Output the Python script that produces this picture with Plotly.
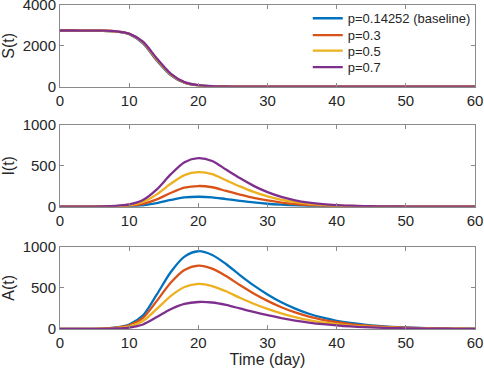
import plotly.graph_objects as go

# ---- data ----
t = list(range(0, 61, 2))
labels = ["p=0.14252 (baseline)", "p=0.3", "p=0.5", "p=0.7"]
colors = ["#0072BD", "#D95319", "#EDB120", "#7E2F8E"]

S_blue = [2750, 2750, 2747, 2738, 2705, 2570, 2120, 1280, 570, 190, 58, 18, 6, 2, 1, 0] + [0] * 15
S_red = [2750, 2750, 2747, 2740, 2709, 2582, 2150, 1315, 595, 200, 62, 19, 7, 2, 1, 0] + [0] * 15
S_yellow = [2750, 2750, 2748, 2741, 2712, 2591, 2175, 1348, 618, 210, 66, 20, 7, 3, 1, 0] + [0] * 15
S_purple = [2750, 2750, 2748, 2742, 2715, 2600, 2200, 1380, 640, 220, 70, 22, 8, 3, 1, 0] + [0] * 15

I_blue = [0, 0, 0, 1, 2, 6, 17, 44, 82, 113, 122, 115, 93, 72, 52, 36, 25, 16, 10, 6, 4, 2, 1, 1, 0, 0, 0, 0, 0, 0, 0]
I_red = [0, 0, 1, 2, 4, 12, 35, 90, 168, 232, 253, 238, 193, 149, 108, 76, 51, 33, 21, 13, 8, 5, 3, 2, 1, 1, 0, 0, 0, 0, 0]
I_yellow = [0, 1, 1, 3, 7, 20, 58, 151, 280, 387, 422, 398, 323, 249, 181, 126, 85, 55, 36, 22, 13, 9, 5, 3, 2, 1, 1, 0, 0, 0, 0]
I_purple = [0, 1, 2, 4, 10, 28, 82, 212, 395, 545, 595, 560, 455, 350, 255, 178, 120, 78, 50, 31, 19, 12, 7, 4, 3, 2, 1, 1, 0, 0, 0]

A_blue = [0, 1, 2, 5, 18, 55, 165, 420, 690, 880, 945, 900, 790, 655, 530, 420, 325, 248, 185, 137, 100, 73, 53, 38, 27, 19, 13, 9, 6, 4, 3]
A_red = [0, 1, 2, 4, 15, 45, 135, 342, 562, 717, 770, 733, 644, 534, 432, 342, 265, 202, 151, 112, 82, 60, 43, 31, 22, 15, 11, 7, 5, 3, 2]
A_yellow = [0, 1, 1, 3, 10, 32, 96, 244, 400, 510, 548, 522, 458, 380, 307, 244, 189, 144, 107, 79, 58, 42, 31, 22, 16, 11, 8, 5, 4, 3, 2]
A_purple = [0, 0, 1, 2, 6, 18, 55, 145, 240, 305, 328, 322, 292, 250, 207, 168, 133, 103, 78, 58, 43, 31, 22, 16, 11, 8, 6, 4, 3, 2, 1]

S_all = [S_blue, S_red, S_yellow, S_purple]
I_all = [I_blue, I_red, I_yellow, I_purple]
A_all = [A_blue, A_red, A_yellow, A_purple]

x_ticks = [0, 10, 20, 30, 40, 50, 60]
S_ticks = [0, 2000, 4000]
IA_ticks = [0, 500, 1000]

legend_ids = ["legend", "legend2", "legend3", "legend4"]
legend_y = [0.959, 0.907, 0.859, 0.808]

fig = go.Figure()
for k, (series, suffix) in enumerate([(S_all, ""), (I_all, "2"), (A_all, "3")]):
    for i, y in enumerate(series):
        fig.add_trace(go.Scatter(
            x=t, y=y, mode="lines", name=labels[i],
            line=dict(color=colors[i], width=2.3, shape="spline", smoothing=0.8),
            xaxis="x" + suffix, yaxis="y" + suffix,
            showlegend=(k == 0), legend=legend_ids[i],
        ))

font_family = "Liberation Sans, Arial, sans-serif"
axis_common = dict(
    showline=True, linecolor="#8a8a8a", linewidth=1, mirror="ticks",
    ticks="inside", ticklen=4, tickcolor="#8a8a8a", showgrid=False, zeroline=False,
    automargin=False, ticklabeloverflow="allow",
    tickfont=dict(size=15, color="#262626", family=font_family),
)

domains = [[0.748, 1.0], [0.3775, 0.6296], [0.0, 0.254]]
ytitles = ["S(t)", "I(t)", "A(t)"]
yranges = [[0, 4000], [0, 1000], [0, 1000]]
yticks = [S_ticks, IA_ticks, IA_ticks]

layout = dict(
    width=484, height=376,
    margin=dict(l=60, r=9, t=5, b=47, autoexpand=False),
    paper_bgcolor="white", plot_bgcolor="white",
    font=dict(family=font_family, color="#262626"),
)
for i, lid in enumerate(legend_ids):
    layout[lid] = dict(
        x=0.597, y=legend_y[i], xanchor="left", yanchor="middle",
        bgcolor="rgba(255,255,255,0)", borderwidth=0,
        font=dict(size=13, color="#262626", family=font_family),
        itemwidth=30,
    )
for k in range(3):
    sx = "" if k == 0 else str(k + 1)
    layout["xaxis" + sx] = dict(
        axis_common, domain=[0, 1], range=[0, 60], tickvals=x_ticks,
        anchor="y" + sx,
        title=dict(text="Time (day)", font=dict(size=16), standoff=2) if k == 2 else None,
    )
    layout["yaxis" + sx] = dict(
        axis_common, domain=domains[k], range=yranges[k], tickvals=yticks[k],
        anchor="x" + sx,
        title=dict(text=ytitles[k], font=dict(size=16), standoff=4),
    )

fig.update_layout(**layout)
fig.write_html(
    "out.html",
    config={"displayModeBar": False},
    post_script="document.body.style.margin='0';document.body.style.overflow='hidden';",
)
